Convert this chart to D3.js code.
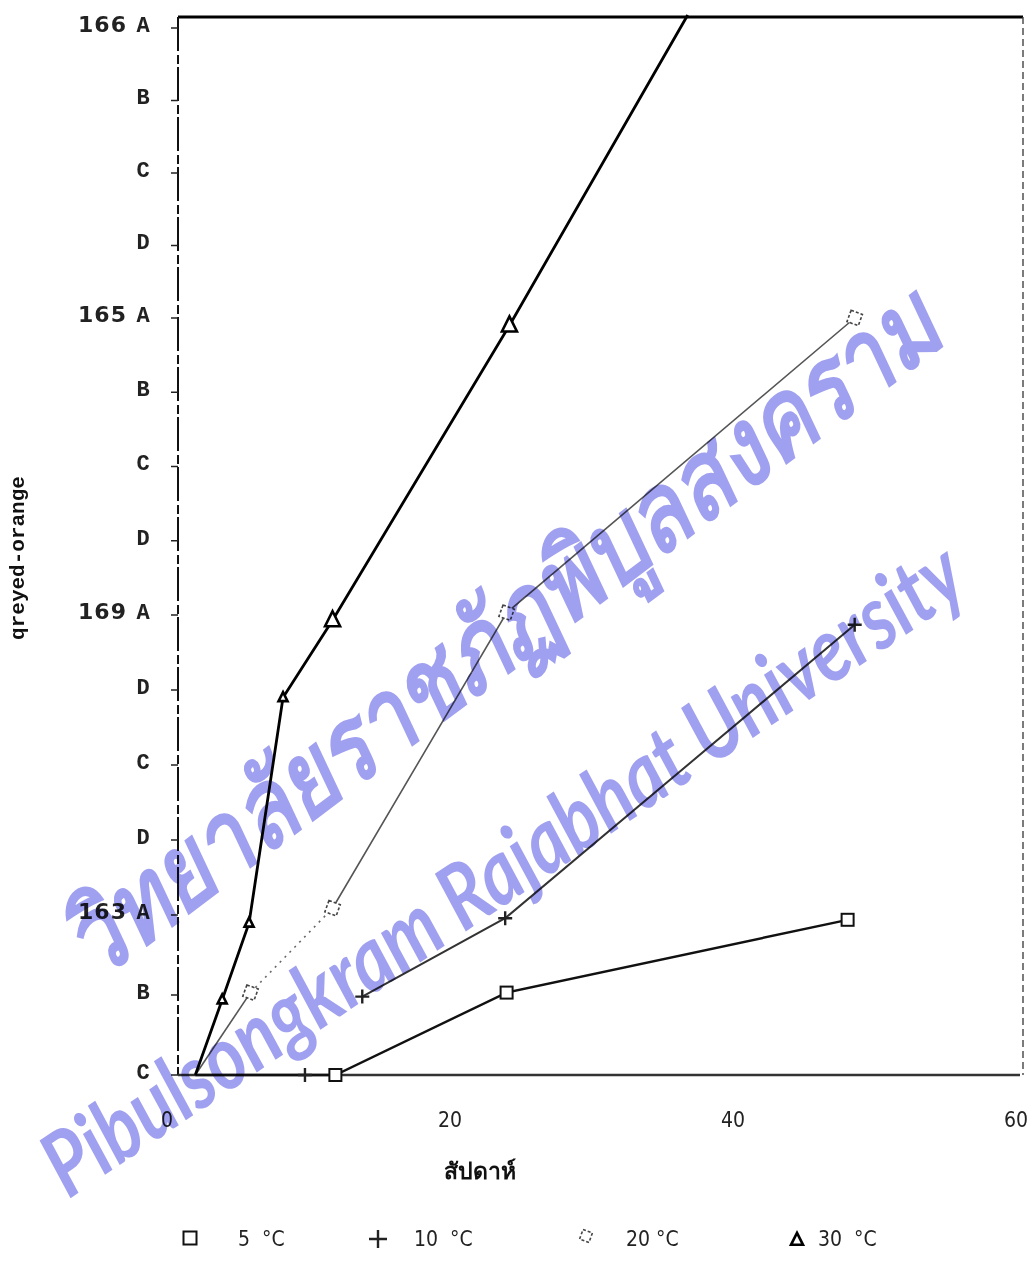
<!DOCTYPE html>
<html><head><meta charset="utf-8">
<script src="https://cdn.jsdelivr.net/npm/d3@7"></script>
<style>body{margin:0;background:#fff}</style>
</head><body>
<script>
// ---- data ----
const xTickValues = [0, 20, 40, 60];
const yTickIndex = [0,1,2,3,4,5,6,7,8,9,10,11,12,13,14];
const yTickNumbers = ["","","163","","","","169","","","","165","","","","166"];
const yTickLetters = ["C","B","A","D","C","D","A","D","C","B","A","D","C","B","A"];

const weeks5  = [2, 11.9, 24, 48.1];
const vals5   = [0, 0, 1.03, 1.94];
const weeks10 = [9.75, 13.8, 23.9, 48.6];
const vals10  = [0, 0.98, 1.96, 5.87];
const weeks20 = [2, 5.9, 11.7, 24, 48.6];
const vals20  = [0, 1.03, 2.09, 6.03, 10.0];
const weeks30 = [2, 3.9, 5.8, 8.2, 11.7, 24.2, 36.8];
const vals30  = [0, 0.94, 1.9, 4.9, 5.93, 9.9, 14.18];

const seriesNames = ["5 °C", "10 °C", "20 °C", "30 °C"];
const xTitle = "สัปดาห์";
const yTitle = "qreyed-orange";
const watermark1 = "วิทยาลัยราชภัฏพิบูลสงคราม";
const watermark2 = "Pibulsongkram Rajabhat University";

// ---- layout ----
const W = 1034, H = 1262;
const frame = {left: 178, top: 17, right: 1023, bottom: 1075};

const svg = d3.select("body").append("svg").attr("width", W).attr("height", H)
  .style("font-family", "DejaVu Sans");

const x = d3.scaleLinear().domain([0, 60]).range([167, 1016]);
const y = d3.scaleLinear().domain([0, 2, 6, 10, 14]).range([1075, 915, 615, 318, 28]);

// frame
svg.append("line").attr("x1", frame.left).attr("x2", frame.right).attr("y1", frame.top).attr("y2", frame.top)
  .attr("stroke", "#000").attr("stroke-width", 3);
svg.append("line").attr("x1", frame.right).attr("x2", frame.right).attr("y1", frame.top).attr("y2", frame.bottom)
  .attr("stroke", "#444").attr("stroke-width", 1.4).attr("stroke-dasharray", "7,4");
svg.append("line").attr("x1", frame.left).attr("x2", frame.left).attr("y1", frame.top).attr("y2", frame.bottom)
  .attr("stroke", "#111").attr("stroke-width", 2).attr("stroke-dasharray", "34,4,9,3");
svg.append("line").attr("x1", frame.left).attr("x2", frame.right - 3).attr("y1", frame.bottom).attr("y2", frame.bottom)
  .attr("stroke", "#333").attr("stroke-width", 2.5);

// y ticks + labels
const yg = svg.append("g");
yTickIndex.forEach((t, i) => {
  const py = y(t);
  yg.append("line").attr("x1", frame.left - 7).attr("x2", frame.left).attr("y1", py).attr("y2", py)
    .attr("stroke", "#222").attr("stroke-width", 1.5);
  if (yTickNumbers[i]) {
    yg.append("text").attr("x", 127).attr("y", py - 2).attr("text-anchor", "end")
      .attr("dominant-baseline", "middle").attr("font-family", "DejaVu Sans").attr("font-weight", "bold")
      .attr("font-size", 22).attr("letter-spacing", 1).attr("fill", "#222").text(yTickNumbers[i]);
  }
  yg.append("text").attr("x", 143).attr("y", py - 2).attr("text-anchor", "middle")
    .attr("dominant-baseline", "middle").attr("font-family", "Liberation Mono").attr("font-weight", "bold")
    .attr("font-size", 22).attr("fill", "#222").text(yTickLetters[i]);
});

// x tick labels
xTickValues.forEach(v => {
  svg.append("text").attr("x", x(v)).attr("y", 1121).attr("text-anchor", "middle")
    .attr("dominant-baseline", "middle").attr("font-family", "DejaVu Sans Condensed")
    .attr("font-size", 21).attr("fill", "#222").text(v);
});

// axis titles
svg.append("text").attr("x", 480).attr("y", 1172).attr("text-anchor", "middle")
  .attr("dominant-baseline", "middle").attr("font-size", 23).attr("font-weight", "bold")
  .attr("fill", "#111").text(xTitle);
svg.append("text").attr("transform", "translate(18,558) rotate(-90)").attr("text-anchor", "middle")
  .attr("dominant-baseline", "middle").attr("font-family", "Liberation Mono").attr("font-weight", "bold")
  .attr("font-size", 21).attr("fill", "#111").text(yTitle);

// series
const line = d3.line().x(d => x(d[0])).y(d => y(d[1]));
const zip = (a, b) => a.map((v, i) => [v, b[i]]);

const s5 = zip(weeks5, vals5), s10 = zip(weeks10, vals10), s20 = zip(weeks20, vals20), s30 = zip(weeks30, vals30);

svg.append("path").attr("d", line(s5)).attr("fill", "none").attr("stroke", "#111").attr("stroke-width", 2.4);
svg.append("path").attr("d", line(s10.slice(1))).attr("fill", "none").attr("stroke", "#333").attr("stroke-width", 2);
svg.append("path").attr("d", line(s20.slice(0, 2))).attr("fill", "none").attr("stroke", "#555").attr("stroke-width", 1.6);
svg.append("path").attr("d", line(s20.slice(1, 3))).attr("fill", "none").attr("stroke", "#666").attr("stroke-width", 1.6).attr("stroke-dasharray", "2,5");
svg.append("path").attr("d", line(s20.slice(2))).attr("fill", "none").attr("stroke", "#555").attr("stroke-width", 1.6);
svg.append("path").attr("d", line(s30)).attr("fill", "none").attr("stroke", "#000").attr("stroke-width", 2.8);

// markers
const mg = svg.append("g");
function square(g, cx, cy, s) {
  g.append("rect").attr("x", cx - s/2).attr("y", cy - s/2).attr("width", s).attr("height", s)
    .attr("fill", "#fff").attr("stroke", "#111").attr("stroke-width", 2);
}
function plus(g, cx, cy, s) {
  g.append("path").attr("d", `M${cx - s/2},${cy}H${cx + s/2}M${cx},${cy - s/2}V${cy + s/2}`)
    .attr("stroke", "#222").attr("stroke-width", 2.4).attr("fill", "none");
}
function ring(g, cx, cy, r) {
  g.append("rect").attr("x", cx - r).attr("y", cy - r).attr("width", 2*r).attr("height", 2*r)
    .attr("transform", `rotate(20,${cx},${cy})`)
    .attr("fill", "#fff").attr("stroke", "#444").attr("stroke-width", 1.6).attr("stroke-dasharray", "3,2");
}
function tri(g, cx, cy, s) {
  g.append("path").attr("d", `M${cx},${cy - s*0.6}L${cx + s/2},${cy + s*0.4}L${cx - s/2},${cy + s*0.4}Z`)
    .attr("fill", "#fff").attr("stroke", "#000").attr("stroke-width", 2.6);
}
s5.slice(1).forEach(d => square(mg, x(d[0]), y(d[1]), 12));
s10.forEach(d => plus(mg, x(d[0]), y(d[1]), 14));
s20.slice(1).forEach(d => ring(mg, x(d[0]), y(d[1]), 6));
s30.slice(1, -1).forEach(d => tri(mg, x(d[0]), y(d[1]), d[0] < 10 ? 9 : 15));

// legend
const ly = 1240;
const lg = svg.append("g");
square(lg, 190, ly - 2, 13);
lg.append("text").attr("x", 238).attr("y", ly).attr("dominant-baseline", "middle")
  .attr("font-family", "DejaVu Sans Condensed").attr("font-size", 21).attr("fill", "#222")
  .attr("xml:space", "preserve").text(seriesNames[0].replace(" ", "  "));
plus(lg, 378, ly - 1, 18);
lg.append("text").attr("x", 414).attr("y", ly).attr("dominant-baseline", "middle")
  .attr("font-family", "DejaVu Sans Condensed").attr("font-size", 21).attr("fill", "#222")
  .attr("xml:space", "preserve").text(seriesNames[1].replace(" ", "  "));
ring(lg, 586, ly - 4, 5);
lg.append("text").attr("x", 626).attr("y", ly).attr("dominant-baseline", "middle")
  .attr("font-family", "DejaVu Sans Condensed").attr("font-size", 21).attr("fill", "#222")
  .attr("xml:space", "preserve").text(seriesNames[2]);
tri(lg, 797, ly, 12);
lg.append("text").attr("x", 818).attr("y", ly).attr("dominant-baseline", "middle")
  .attr("font-family", "DejaVu Sans Condensed").attr("font-size", 21).attr("fill", "#222")
  .attr("xml:space", "preserve").text(seriesNames[3].replace(" ", "  "));

// watermark (kept inside the page; width compressed with a scale transform)
const wm = svg.append("g").style("mix-blend-mode", "multiply").attr("fill", "rgb(160,160,240)");
function stamp(str, cx, cy, angle, fs, fam, target) {
  const t = wm.append("text").attr("text-anchor", "middle")
    .attr("font-family", fam).attr("font-style", "italic").attr("font-weight", "bold")
    .attr("font-size", fs).text(str);
  const natural = t.node().getComputedTextLength() || target;
  const sx = Math.min(1, target / natural);
  t.attr("transform", `translate(${cx},${cy}) rotate(${angle}) scale(${sx},1)`);
}
stamp(watermark1, 522, 662, -37, 106, "Noto Sans, DejaVu Sans, sans-serif", 1070);
stamp(watermark2, 520, 895, -34, 90, "Lato", 1090);
</script>
</body></html>
